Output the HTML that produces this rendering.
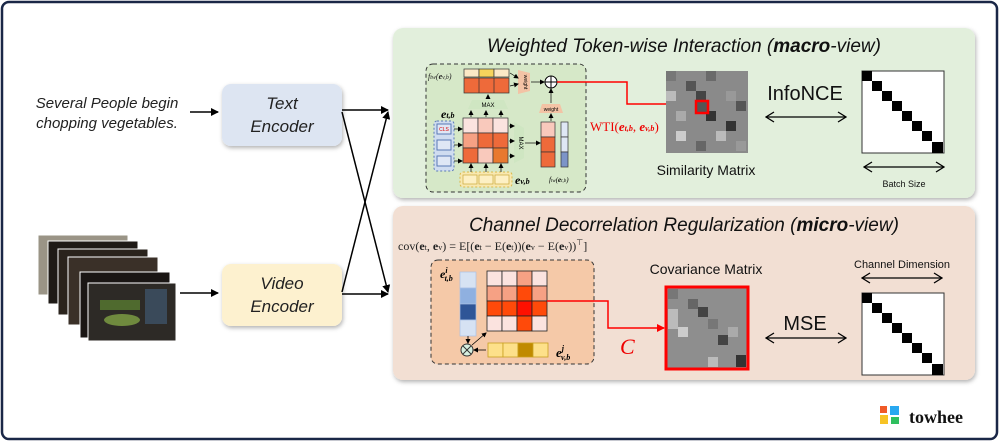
<!DOCTYPE html>
<html><head><meta charset="utf-8"><style>
body{margin:0;width:1000px;height:442px;background:#fff;overflow:hidden}
svg{display:block}
</style></head><body>
<svg width="1000" height="442" viewBox="0 0 1000 442" xmlns="http://www.w3.org/2000/svg" font-family="Liberation Sans, sans-serif">
<defs>
<marker id="ab" markerWidth="8" markerHeight="8" refX="7" refY="4" orient="auto-start-reverse" markerUnits="userSpaceOnUse"><path d="M0,0 L8,4 L0,8 z" fill="#000"/></marker>
<marker id="ao" markerWidth="10" markerHeight="12" refX="9" refY="6" orient="auto-start-reverse" markerUnits="userSpaceOnUse"><path d="M1,1 L9,6 L1,11" fill="none" stroke="#000" stroke-width="1.3"/></marker>
<marker id="ar" markerWidth="8" markerHeight="8" refX="7" refY="4" orient="auto" markerUnits="userSpaceOnUse"><path d="M0,0 L8,4 L0,8 z" fill="#f00"/></marker>
<marker id="as" markerWidth="5" markerHeight="5" refX="4" refY="2.5" orient="auto" markerUnits="userSpaceOnUse"><path d="M0,0 L5,2.5 L0,5 z" fill="#000"/></marker>
<filter id="sh" x="-5%" y="-5%" width="110%" height="115%"><feDropShadow dx="1" dy="2" stdDeviation="2" flood-color="#000" flood-opacity="0.3"/></filter>
</defs>
<rect x="2" y="2" width="995" height="437" rx="7" fill="#fff" stroke="#1a2747" stroke-width="2.5"/>

<rect x="393" y="28" width="582" height="170" rx="10" fill="#e2efdc" filter="url(#sh)"/>
<rect x="393" y="206" width="582" height="174" rx="10" fill="#f2dfd3" filter="url(#sh)"/>
<text x="684" y="52" font-size="19" font-style="italic" text-anchor="middle" fill="#111">Weighted Token-wise Interaction (<tspan font-weight="bold">macro</tspan>-view)</text>
<text x="684" y="231" font-size="19" font-style="italic" text-anchor="middle" fill="#111">Channel Decorrelation Regularization (<tspan font-weight="bold">micro</tspan>-view)</text>

<text x="107" y="108" font-size="15" font-style="italic" text-anchor="middle" fill="#222">Several People begin</text>
<text x="107" y="128" font-size="15" font-style="italic" text-anchor="middle" fill="#222">chopping vegetables.</text>
<line x1="190" y1="112" x2="218" y2="112" stroke="#000" stroke-width="1.5" marker-end="url(#ab)"/>

<g stroke="#fff" stroke-width="1">
<rect x="38" y="235" width="90" height="60" fill="#9a9486"/>
<rect x="48" y="241" width="90" height="63" fill="#1e1a16"/>
<rect x="58" y="249" width="90" height="66" fill="#2a231c"/>
<rect x="68" y="257" width="90" height="68" fill="#3a3028"/>
<rect x="80" y="272" width="90" height="66" fill="#1a1614"/>
<rect x="88" y="283" width="88" height="58" fill="#2d2a26"/>
</g>
<rect x="100" y="300" width="40" height="10" fill="#4f6a2e"/>
<ellipse cx="122" cy="320" rx="18" ry="6" fill="#6f8a3e"/>
<rect x="145" y="289" width="22" height="35" fill="#3a4a5a"/>
<line x1="180" y1="293" x2="218" y2="293" stroke="#000" stroke-width="1.5" marker-end="url(#ab)"/>

<rect x="222" y="84" width="120" height="62" rx="9" fill="#dde5f2" filter="url(#sh)"/>
<text x="282" y="109" font-size="17" font-style="italic" text-anchor="middle" fill="#222">Text</text>
<text x="282" y="132" font-size="17" font-style="italic" text-anchor="middle" fill="#222">Encoder</text>
<rect x="222" y="264" width="120" height="62" rx="9" fill="#fdf1cf" filter="url(#sh)"/>
<text x="282" y="289" font-size="17" font-style="italic" text-anchor="middle" fill="#222">Video</text>
<text x="282" y="312" font-size="17" font-style="italic" text-anchor="middle" fill="#222">Encoder</text>

<g stroke="#000" stroke-width="1.5" fill="none">
<line x1="342" y1="110" x2="388" y2="110" marker-end="url(#ab)"/>
<line x1="342" y1="112" x2="388" y2="292" marker-end="url(#ab)"/>
<line x1="342" y1="292" x2="388" y2="112" marker-end="url(#ab)"/>
<line x1="342" y1="294" x2="388" y2="294" marker-end="url(#ab)"/>
</g>

<rect x="426" y="64" width="160" height="128" rx="7" fill="#d6e8c8" stroke="#333" stroke-dasharray="4,3"/>
<text x="428" y="79" font-size="8" font-style="italic" fill="#222" font-family="Liberation Serif, serif">f<tspan font-size="6">tw</tspan>(<tspan font-weight="bold">e</tspan><tspan font-size="6">v,b</tspan>)</text>
<rect x="464" y="69" width="15" height="8" fill="#fbe9c6" stroke="#333" stroke-width=".7"/>
<rect x="479" y="69" width="15" height="8" fill="#f6d45c" stroke="#333" stroke-width=".7"/>
<rect x="494" y="69" width="15" height="8" fill="#fbe9c6" stroke="#333" stroke-width=".7"/>
<rect x="464" y="78" width="45" height="15" fill="#ee6a3a" stroke="#333" stroke-width=".7"/>
<line x1="479" y1="78" x2="479" y2="93" stroke="#333" stroke-width=".7"/><line x1="494" y1="78" x2="494" y2="93" stroke="#333" stroke-width=".7"/>
<path d="M518,70 L530,73 L530,91 L518,94 Z" fill="#f3c3a5"/>
<text x="524" y="82" font-size="5" transform="rotate(90 524 82)" text-anchor="middle">weight</text>
<circle cx="551" cy="82" r="6" fill="#fff" stroke="#000"/>
<line x1="545" y1="82" x2="557" y2="82" stroke="#000"/><line x1="551" y1="76" x2="551" y2="88" stroke="#000"/>
<path d="M472,100 L504,100 L508,109 L468,109 Z" fill="#cfe6c2"/>
<text x="488" y="107" font-size="6" text-anchor="middle">MAX</text>
<text x="441" y="118" font-size="12" font-weight="bold" font-style="italic" font-family="Liberation Serif, serif">e<tspan font-size="8">t,b</tspan></text>
<rect x="434" y="121" width="20" height="50" rx="3" fill="#cfdcf0" stroke="#5a7ab5" stroke-dasharray="2,2"/>
<rect x="437" y="124" width="14" height="10" fill="#dfe7f5" stroke="#5a7ab5"/><text x="444" y="131" font-size="5" fill="#d00" text-anchor="middle">CLS</text>
<rect x="437" y="140" width="14" height="10" fill="#dfe7f5" stroke="#5a7ab5"/>
<rect x="437" y="156" width="14" height="10" fill="#dfe7f5" stroke="#5a7ab5"/>
<g stroke="#333" stroke-width=".7">
<rect x="463" y="118" width="15" height="15" fill="#fbe3df"/><rect x="478" y="118" width="15" height="15" fill="#f9c9bc"/><rect x="493" y="118" width="15" height="15" fill="#fbe3df"/>
<rect x="463" y="133" width="15" height="15" fill="#f6a184"/><rect x="478" y="133" width="15" height="15" fill="#ee6a3a"/><rect x="493" y="133" width="15" height="15" fill="#ee6a3a"/>
<rect x="463" y="148" width="15" height="15" fill="#ee6a3a"/><rect x="478" y="148" width="15" height="15" fill="#f9c9bc"/><rect x="493" y="148" width="15" height="15" fill="#e8792f"/>
</g>
<path d="M514,122 L524,128 L524,158 L514,163 Z" fill="#cfe6c2"/>
<text x="519" y="143" font-size="6" transform="rotate(90 519 143)" text-anchor="middle">MAX</text>
<g stroke="#333" stroke-width=".7">
<rect x="541" y="122" width="14" height="15" fill="#f9c9bc"/><rect x="541" y="137" width="14" height="15" fill="#ee6a3a"/><rect x="541" y="152" width="14" height="15" fill="#ee6a3a"/>
<rect x="561" y="122" width="7" height="15" fill="#dfe7f5"/><rect x="561" y="137" width="7" height="15" fill="#dfe7f5"/><rect x="561" y="152" width="7" height="15" fill="#7c94c8"/>
</g>
<path d="M542,104 L560,104 L563,113 L539,113 Z" fill="#f3c3a5"/>
<text x="551" y="111" font-size="5" text-anchor="middle">weight</text>
<rect x="460" y="172" width="52" height="15" rx="3" fill="#f8e8b0" stroke="#d9b84a" stroke-dasharray="2,2"/>
<rect x="463" y="175" width="14" height="9" fill="#fdf0c4" stroke="#c9a83a" stroke-width=".7"/><rect x="479" y="175" width="14" height="9" fill="#fdf0c4" stroke="#c9a83a" stroke-width=".7"/><rect x="495" y="175" width="14" height="9" fill="#fdf0c4" stroke="#c9a83a" stroke-width=".7"/>
<text x="515" y="184" font-size="12" font-weight="bold" font-style="italic" font-family="Liberation Serif, serif">e<tspan font-size="8">v,b</tspan></text>
<text x="549" y="182" font-size="7" font-style="italic" font-family="Liberation Serif, serif">f<tspan font-size="5">tw</tspan>(<tspan font-weight="bold">e</tspan><tspan font-size="5">t,b</tspan>)</text>
<g stroke="#000" stroke-width=".7" fill="none">
<line x1="488" y1="99" x2="488" y2="95" marker-end="url(#as)"/>
<line x1="471" y1="117" x2="471" y2="111" marker-end="url(#as)"/><line x1="486" y1="117" x2="486" y2="111" marker-end="url(#as)"/><line x1="501" y1="117" x2="501" y2="111" marker-end="url(#as)"/>
<line x1="509" y1="126" x2="514" y2="126" marker-end="url(#as)"/><line x1="509" y1="141" x2="514" y2="141" marker-end="url(#as)"/><line x1="509" y1="156" x2="514" y2="156" marker-end="url(#as)"/>
<line x1="525" y1="143" x2="540" y2="143" marker-end="url(#as)"/>
<line x1="454" y1="129" x2="462" y2="129" marker-end="url(#as)"/><line x1="454" y1="145" x2="462" y2="145" marker-end="url(#as)"/><line x1="454" y1="161" x2="462" y2="161" marker-end="url(#as)"/>
<line x1="471" y1="172" x2="471" y2="164" marker-end="url(#as)"/><line x1="486" y1="172" x2="486" y2="164" marker-end="url(#as)"/><line x1="501" y1="172" x2="501" y2="164" marker-end="url(#as)"/>
<line x1="551" y1="121" x2="551" y2="114" marker-end="url(#as)"/>
<line x1="551" y1="103" x2="551" y2="89" marker-end="url(#as)"/>
<line x1="531" y1="82" x2="544" y2="82" marker-end="url(#as)"/>
<line x1="510" y1="73" x2="518" y2="78" marker-end="url(#as)"/><line x1="510" y1="86" x2="518" y2="84" marker-end="url(#as)"/>
</g>
<polyline points="557,82 627,82 627,104 686,104" fill="none" stroke="#f00" stroke-width="1.5" marker-end="url(#ar)"/>
<text x="590" y="131" font-size="13" fill="#e00" font-family="Liberation Serif, serif">WTI(<tspan font-style="italic" font-weight="bold">e</tspan><tspan font-size="8" font-style="italic" font-weight="bold">t,b</tspan>, <tspan font-style="italic" font-weight="bold">e</tspan><tspan font-size="8" font-style="italic" font-weight="bold">v,b</tspan>)</text>

<rect x="666" y="71" width="82" height="82" fill="#8a8a8a"/>
<rect x="666" y="71" width="10" height="10" fill="#777"/><rect x="686" y="81" width="10" height="10" fill="#555"/><rect x="706" y="71" width="10" height="10" fill="#6a6a6a"/>
<rect x="666" y="91" width="10" height="10" fill="#bbb"/><rect x="696" y="91" width="10" height="10" fill="#444"/><rect x="726" y="91" width="10" height="10" fill="#999"/>
<rect x="676" y="111" width="10" height="10" fill="#aaa"/><rect x="706" y="111" width="10" height="10" fill="#333"/><rect x="736" y="101" width="10" height="10" fill="#555"/>
<rect x="676" y="131" width="10" height="10" fill="#ccc"/><rect x="716" y="131" width="10" height="10" fill="#bbb"/><rect x="726" y="121" width="10" height="10" fill="#333"/>
<rect x="696" y="141" width="10" height="10" fill="#666"/><rect x="736" y="141" width="10" height="10" fill="#999"/>
<rect x="696" y="101" width="12" height="12" fill="#555" stroke="#f00" stroke-width="2.5"/>
<text x="706" y="175" font-size="14" text-anchor="middle" fill="#111">Similarity Matrix</text>
<text x="805" y="100" font-size="20" text-anchor="middle" fill="#111">InfoNCE</text>
<line x1="766" y1="117" x2="846" y2="117" stroke="#000" stroke-width="1.3" marker-end="url(#ao)" marker-start="url(#ao)"/>
<rect x="862" y="71" width="82" height="82" fill="#fff" stroke="#333"/>
<g fill="#000"><rect x="862" y="71" width="10" height="10"/><rect x="872" y="81" width="10" height="10"/><rect x="882" y="91" width="10" height="10"/><rect x="892" y="101" width="10" height="10"/><rect x="902" y="111" width="10" height="10"/><rect x="912" y="121" width="10" height="10"/><rect x="922" y="131" width="10" height="10"/><rect x="932" y="142" width="11" height="11"/></g>
<line x1="864" y1="167" x2="944" y2="167" stroke="#000" stroke-width="1.3" marker-end="url(#ao)" marker-start="url(#ao)"/>
<text x="904" y="187" font-size="9" text-anchor="middle" fill="#111">Batch Size</text>

<text x="398" y="250" font-size="12" font-family="Liberation Serif, serif" fill="#222">cov(<tspan font-weight="bold">e</tspan><tspan font-size="8">t</tspan>, <tspan font-weight="bold">e</tspan><tspan font-size="8">v</tspan>) = E[(<tspan font-weight="bold">e</tspan><tspan font-size="8">t</tspan> − E(<tspan font-weight="bold">e</tspan><tspan font-size="8">t</tspan>))(<tspan font-weight="bold">e</tspan><tspan font-size="8">v</tspan> − E(<tspan font-weight="bold">e</tspan><tspan font-size="8">v</tspan>))<tspan font-size="8" dy="-5">⊤</tspan><tspan dy="5">]</tspan></text>
<rect x="431" y="260" width="163" height="104" rx="7" fill="#f5c9a8" stroke="#333" stroke-dasharray="4,3"/>
<text x="440" y="278" font-size="12" font-weight="bold" font-style="italic" font-family="Liberation Serif, serif">e<tspan font-size="8" dy="-5">i</tspan><tspan font-size="8" dx="-3" dy="8">t,b</tspan></text>
<g stroke="#a9c0e6" stroke-width=".7">
<rect x="460" y="272" width="16" height="16" fill="#d6e2f3"/><rect x="460" y="288" width="16" height="16" fill="#8fb0e0"/><rect x="460" y="304" width="16" height="16" fill="#2f5597"/><rect x="460" y="320" width="16" height="16" fill="#d6e2f3"/>
</g>
<g stroke="#222" stroke-width=".8">
<rect x="487" y="271" width="15" height="15" fill="#fbe3df"/><rect x="502" y="271" width="15" height="15" fill="#fbe3df"/><rect x="517" y="271" width="15" height="15" fill="#f6a184"/><rect x="532" y="271" width="15" height="15" fill="#fbe3df"/>
<rect x="487" y="286" width="15" height="15" fill="#f6a184"/><rect x="502" y="286" width="15" height="15" fill="#f6a184"/><rect x="517" y="286" width="15" height="15" fill="#ff4a0a"/><rect x="532" y="286" width="15" height="15" fill="#f6a184"/>
<rect x="487" y="301" width="15" height="15" fill="#ff4a0a"/><rect x="502" y="301" width="15" height="15" fill="#ff4a0a"/><rect x="517" y="301" width="15" height="15" fill="#ff1000"/><rect x="532" y="301" width="15" height="15" fill="#ff4a0a"/>
<rect x="487" y="316" width="15" height="15" fill="#fbe3df"/><rect x="502" y="316" width="15" height="15" fill="#fbe3df"/><rect x="517" y="316" width="15" height="15" fill="#ff4a0a"/><rect x="532" y="316" width="15" height="15" fill="#fbe3df"/>
</g>
<g stroke="#c9a020" stroke-width=".8">
<rect x="488" y="343" width="15" height="14" fill="#fde08a"/><rect x="503" y="343" width="15" height="14" fill="#fde08a"/><rect x="518" y="343" width="15" height="14" fill="#c08a00"/><rect x="533" y="343" width="15" height="14" fill="#fde08a"/>
</g>
<circle cx="467" cy="350" r="6" fill="#d6efe0" stroke="#333"/>
<line x1="463" y1="346" x2="471" y2="354" stroke="#333"/><line x1="471" y1="346" x2="463" y2="354" stroke="#333"/>
<g stroke="#000" stroke-width=".8" fill="none">
<line x1="468" y1="336" x2="468" y2="343" marker-end="url(#as)"/>
<line x1="486" y1="350" x2="474" y2="350" marker-end="url(#as)"/>
<line x1="472" y1="345" x2="486" y2="333" marker-end="url(#as)"/>
</g>
<text x="556" y="357" font-size="13" font-weight="bold" font-style="italic" font-family="Liberation Serif, serif">e<tspan font-size="8" dy="-6">j</tspan><tspan font-size="8" dx="-3" dy="9">v,b</tspan></text>
<polyline points="547,301 608,301 608,328 664,328" fill="none" stroke="#f00" stroke-width="1.5" marker-end="url(#ar)"/>
<text x="620" y="354" font-size="22" fill="#e00" font-style="italic" font-family="Liberation Serif, serif">C</text>

<text x="706" y="274" font-size="14" text-anchor="middle" fill="#111">Covariance Matrix</text>
<rect x="666" y="287" width="82" height="82" fill="#8e8e8e" stroke="#f00" stroke-width="3"/>
<rect x="668" y="289" width="10" height="10" fill="#777"/><rect x="688" y="299" width="10" height="10" fill="#666"/><rect x="698" y="307" width="10" height="10" fill="#444"/>
<rect x="668" y="309" width="10" height="20" fill="#bbb"/><rect x="678" y="327" width="10" height="10" fill="#ccc"/><rect x="708" y="319" width="10" height="10" fill="#777"/>
<rect x="718" y="335" width="10" height="10" fill="#444"/><rect x="728" y="327" width="10" height="10" fill="#aaa"/><rect x="708" y="357" width="10" height="10" fill="#bbb"/><rect x="736" y="355" width="10" height="12" fill="#333"/>
<text x="805" y="330" font-size="20" text-anchor="middle" fill="#111">MSE</text>
<line x1="766" y1="338" x2="846" y2="338" stroke="#000" stroke-width="1.3" marker-end="url(#ao)" marker-start="url(#ao)"/>
<text x="902" y="268" font-size="11" text-anchor="middle" fill="#111">Channel Dimension</text>
<line x1="862" y1="278" x2="942" y2="278" stroke="#000" stroke-width="1.3" marker-end="url(#ao)" marker-start="url(#ao)"/>
<rect x="862" y="293" width="82" height="82" fill="#fff" stroke="#333"/>
<g fill="#000"><rect x="862" y="293" width="10" height="10"/><rect x="872" y="303" width="10" height="10"/><rect x="882" y="313" width="10" height="10"/><rect x="892" y="323" width="10" height="10"/><rect x="902" y="333" width="10" height="10"/><rect x="912" y="343" width="10" height="10"/><rect x="922" y="353" width="10" height="10"/><rect x="932" y="364" width="11" height="11"/></g>

<rect x="880" y="406" width="7" height="7" fill="#f05a28"/><rect x="890" y="406" width="9" height="9" fill="#29a8f0"/>
<rect x="880" y="415" width="8" height="9" fill="#f7c325"/><rect x="891" y="417" width="8" height="7" fill="#2fbf5f"/>
<text x="909" y="423" font-size="18" font-weight="bold" font-family="Liberation Serif, serif" fill="#111">towhee</text>
</svg>
</body></html>
